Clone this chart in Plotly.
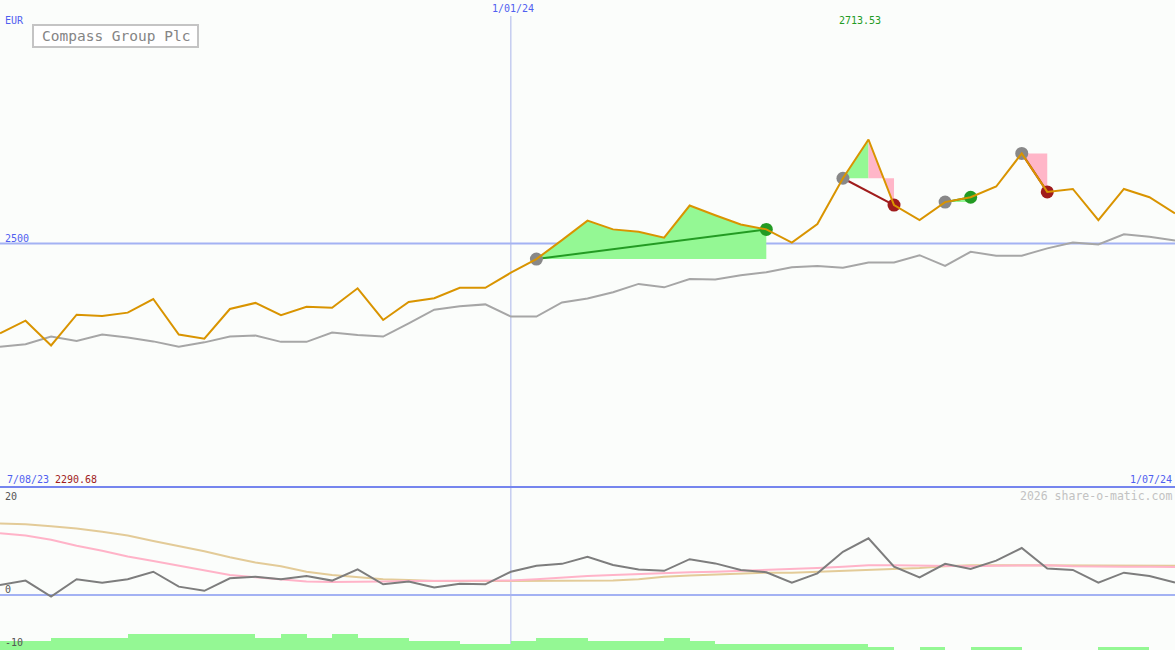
import plotly.graph_objects as go

W, H = 1175, 650

# ---------------- data ----------------
start_label = "7/08/23"
mid_label = "1/01/24"
end_label = "1/07/24"
mid_index = 20
currency = "EUR"
title = "Compass Group Plc"
ref_level = 2500
max_label = "2713.53"
min_label = "2290.68"
credit = "2026 share-o-matic.com"

price = [2315.6, 2341.5, 2290.7, 2353.8, 2351.0, 2358.0, 2386.0, 2313.0, 2304.5, 2365.5,
         2378.0, 2353.0, 2370.0, 2368.0, 2408.0, 2343.0, 2380.0, 2387.5, 2409.0, 2409.0,
         2440.0, 2468.0, 2507.0, 2547.0, 2529.0, 2524.0, 2512.0, 2578.0, 2558.0, 2539.0,
         2529.0, 2502.0, 2540.0, 2634.0, 2713.53, 2579.0, 2548.0, 2585.0, 2595.0, 2617.0,
         2685.0, 2606.0, 2612.0, 2548.0, 2612.0, 2595.0, 2562.0]

average = [2288, 2293, 2309, 2300, 2313, 2307, 2299, 2288, 2297, 2309,
           2311, 2298, 2298, 2317, 2312, 2309, 2336, 2364, 2371, 2375,
           2350, 2350, 2379, 2387, 2400, 2417, 2410, 2427, 2426, 2435,
           2441, 2451, 2454, 2450, 2461, 2461, 2476, 2454, 2483, 2475,
           2475, 2490, 2502, 2498, 2519, 2514, 2506]

oscillator = [2.15, 3.1, -0.35, 3.4, 2.65, 3.4, 5.0, 1.8, 0.9, 3.6,
              3.95, 3.4, 4.1, 3.1, 5.5, 2.3, 2.9, 1.6, 2.4, 2.3,
              5.0, 6.3, 6.7, 8.2, 6.45, 5.5, 5.2, 7.7, 6.8, 5.4,
              4.9, 2.65, 4.65, 9.3, 12.2, 6.1, 3.8, 6.7, 5.6, 7.4,
              10.1, 5.7, 5.4, 2.65, 4.8, 4.1, 2.7]

signal_fast = [13.3, 12.8, 11.9, 10.6, 9.5, 8.3, 7.3, 6.3, 5.3, 4.3,
               3.8, 3.3, 2.9, 2.8, 2.8, 2.9, 3.0, 3.0, 3.0, 3.0,
               3.1, 3.4, 3.8, 4.1, 4.3, 4.5, 4.8, 4.9, 5.0, 5.2,
               5.4, 5.5, 5.8, 6.1, 6.4, 6.4, 6.3, 6.2, 6.2, 6.3,
               6.4, 6.4, 6.2, 6.1, 6.1, 6.1, 6.0]

signal_slow = [15.4, 15.2, 14.8, 14.3, 13.6, 12.8, 11.6, 10.5, 9.4, 8.1,
               7.0, 6.2, 5.0, 4.3, 3.8, 3.4, 3.2, 3.0, 3.0, 3.0,
               3.0, 3.0, 3.0, 3.0, 3.1, 3.4, 3.9, 4.2, 4.4, 4.6,
               4.8, 4.8, 5.0, 5.2, 5.3, 5.6, 5.8, 6.2, 6.4, 6.4,
               6.4, 6.3, 6.3, 6.3, 6.4, 6.4, 6.3]

strength_bars = [3, 3, 4, 4, 4, 5, 5, 5, 5, 5,
                 4, 5, 4, 5, 4, 4, 3, 3, 2, 2,
                 3, 4, 4, 3, 3, 3, 4, 3, 2, 2,
                 2, 2, 2, 2, 1, 0, 1, 0, 1, 1,
                 0, 0, 0, 1, 1, 0]

trade_entries = [21, 33, 37, 40]
trade_exits = [30, 35, 38, 41]

osc_ticks = [20, 0, -10]

# ---------------- styling ----------------
BG = "#fbfdfb"
ORANGE = "#d99400"
MA_GRAY = "#a6a6a6"
OSC_GRAY = "#7d7d7d"
PINK_LINE = "#ffb3c8"
TAN_LINE = "#e3cb98"
GREEN_FILL = "#94f894"
PINK_FILL = "#ffb6c8"
WIN = "#239b23"
LOSS = "#a01c1c"
BLUE_TXT = "#5060f0"
MONO = "DejaVu Sans Mono"

n = len(price)
xs = list(range(n))
split = (H - 487) / H  # main panel bottom (paper)

fig = go.Figure()

# strength bars (bottom of lower panel)
fig.add_trace(go.Bar(x=[i + 0.5 for i in range(len(strength_bars))], y=strength_bars,
                     width=1.0, marker=dict(color=GREEN_FILL, line=dict(width=0)),
                     xaxis="x", yaxis="y3", hoverinfo="skip"))

# trade fills
for e, x_ in zip(trade_entries, trade_exits):
    level = price[e]
    win = price[x_] >= level
    if win:
        segs = [(e, x_, GREEN_FILL)]
    else:
        seg = price[e:x_ + 1]
        peak = e + seg.index(max(seg))
        segs = []
        if peak > e:
            segs.append((e, peak, GREEN_FILL))
        segs.append((peak, x_, PINK_FILL))
    for a, b, col in segs:
        px = xs[a:b + 1] + [b, a]
        py = price[a:b + 1] + [level, level]
        fig.add_trace(go.Scatter(x=px, y=py, fill="toself", fillcolor=col, mode="none",
                                 xaxis="x", yaxis="y", hoverinfo="skip"))

# average
fig.add_trace(go.Scatter(x=xs, y=average, mode="lines", line=dict(color=MA_GRAY, width=2),
                         xaxis="x", yaxis="y"))

# trade lines and markers (below the price line)
for e, x_ in zip(trade_entries, trade_exits):
    win = price[x_] >= price[e]
    col = WIN if win else LOSS
    fig.add_trace(go.Scatter(x=[e, x_], y=[price[e], price[x_]], mode="lines",
                             line=dict(color=col, width=2), xaxis="x", yaxis="y"))
for e, x_ in zip(trade_entries, trade_exits):
    win = price[x_] >= price[e]
    col = WIN if win else LOSS
    fig.add_trace(go.Scatter(x=[e], y=[price[e]], mode="markers",
                             marker=dict(color="#888888", size=13, line=dict(width=0)),
                             xaxis="x", yaxis="y"))
    fig.add_trace(go.Scatter(x=[x_], y=[price[x_]], mode="markers",
                             marker=dict(color=col, size=13, line=dict(width=0)),
                             xaxis="x", yaxis="y"))

# price line on top
fig.add_trace(go.Scatter(x=xs, y=price, mode="lines", line=dict(color=ORANGE, width=2),
                         xaxis="x", yaxis="y"))

# lower panel lines
fig.add_trace(go.Scatter(x=xs, y=signal_slow, mode="lines", line=dict(color=TAN_LINE, width=2),
                         xaxis="x", yaxis="y2"))
fig.add_trace(go.Scatter(x=xs, y=signal_fast, mode="lines", line=dict(color=PINK_LINE, width=2),
                         xaxis="x", yaxis="y2"))
fig.add_trace(go.Scatter(x=xs, y=oscillator, mode="lines", line=dict(color=OSC_GRAY, width=2),
                         xaxis="x", yaxis="y2"))


def px_x(p):
    return p / W


def px_y(p):
    return 1 - p / H


shapes = [
    dict(type="line", xref="paper", x0=0, x1=1, yref="y", y0=ref_level, y1=ref_level,
         line=dict(color="#a3b2f3", width=2), layer="below"),
    dict(type="line", xref="paper", x0=0, x1=1, yref="y2", y0=0, y1=0,
         line=dict(color="#a3b2f3", width=2), layer="below"),
    dict(type="line", xref="paper", x0=0, x1=1, yref="paper", y0=split, y1=split,
         line=dict(color="#7585ee", width=2)),
    dict(type="line", xref="x", x0=mid_index, x1=mid_index, yref="paper", y0=0, y1=px_y(16),
         line=dict(color="#aab4ea", width=1), layer="below"),
    dict(type="rect", xref="paper", yref="paper", x0=px_x(33), x1=px_x(198),
         y0=px_y(47), y1=px_y(25), line=dict(color="#c4c4c4", width=2), fillcolor="#ffffff"),
]


def label(text, x, y, color, size=10, anchor="left"):
    return dict(text=text, x=px_x(x), y=px_y(y), xref="paper", yref="paper",
                xanchor=anchor, yanchor="middle", showarrow=False,
                font=dict(family=MONO, size=size, color=color), borderpad=0)


annotations = [
    label(currency, 4, 21, BLUE_TXT),
    label(title, 115.5, 36, "#858585", size=14.5, anchor="center"),
    label(str(ref_level), 4, 238, BLUE_TXT),
    label(mid_label, 513, 9, BLUE_TXT, anchor="center"),
    label(max_label, 860, 21, WIN, anchor="center"),
    label(start_label, 6, 479, BLUE_TXT),
    label(min_label, 54, 479, LOSS),
    label(end_label, 1173, 479, BLUE_TXT, anchor="right"),
    label(credit, 1173, 496, "#c2c2c2", size=11.5, anchor="right"),
]
tick_pos = {20: 496, 0: 589, -10: 642}
for t in osc_ticks:
    annotations.append(label(str(t), 4, tick_pos[t], "#555555"))

hidden = dict(showgrid=False, zeroline=False, showticklabels=False, showline=False,
              ticks="", fixedrange=True)

fig.update_layout(
    width=W, height=H,
    margin=dict(l=0, r=0, t=0, b=0),
    paper_bgcolor=BG, plot_bgcolor=BG,
    showlegend=False,
    bargap=0,
    xaxis=dict(range=[0, n - 1], domain=[0, 1], **hidden),
    yaxis=dict(range=[2000, 3000], domain=[split, 1], **hidden),
    yaxis2=dict(range=[-11.83, 23.23], domain=[0, split], **hidden),
    yaxis3=dict(range=[0, 52.3], overlaying="y2", **hidden),
    shapes=shapes,
    annotations=annotations,
)

fig.write_html("out.html", config={"displayModeBar": False},
               post_script="document.body.style.margin='0';")
